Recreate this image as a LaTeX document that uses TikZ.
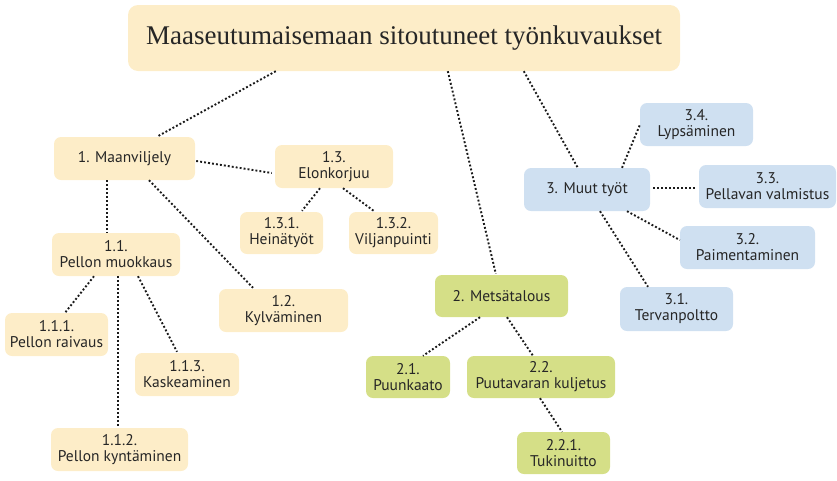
\documentclass[tikz,border=0pt]{standalone}
\usepackage{fontspec}
\setmainfont{PT Sans}
\newfontfamily\titlefont{Liberation Serif}
\usetikzlibrary{calc}
\definecolor{ylw}{HTML}{FDEDC8}
\definecolor{grn}{HTML}{D5DF87}
\definecolor{blu}{HTML}{CFE0F1}
\definecolor{txt}{HTML}{262626}
\definecolor{dotc}{HTML}{1A1A1A}
\tikzset{
  box/.style={rounded corners=7pt, inner sep=0pt, align=center, text=txt,
    font=\fontsize{15.5}{16}\selectfont, minimum height=43pt},
  yb/.style={box, fill=ylw},
  gb/.style={box, fill=grn},
  bb/.style={box, fill=blu},
  link/.style={draw=dotc, line width=1.9pt, dash pattern=on 1.9pt off 2.1pt}
}
\begin{document}
\begin{tikzpicture}[x=1pt,y=-1pt]
\useasboundingbox (0,0) rectangle (837,480);
\node[yb, rounded corners=10pt, minimum width=552pt, minimum height=66pt,
  font=\titlefont\fontsize{27}{30}\selectfont] (title) at (404,38) {Maaseutumaisemaan sitoutuneet työnkuvaukset};
% yellow
\node[yb, minimum width=141pt] (m1) at (124.5,158.5) {1. Maanviljely};
\node[yb, minimum width=118pt] (m13) at (334,166.5) {1.3.\\Elonkorjuu};
\node[yb, minimum width=83pt, minimum height=42pt] (m131) at (281.5,233) {1.3.1.\\Heinätyöt};
\node[yb, minimum width=89pt, minimum height=42pt] (m132) at (393.5,233) {1.3.2.\\Viljanpuinti};
\node[yb, minimum width=128pt] (m11) at (116,254.5) {1.1.\\Pellon muokkaus};
\node[yb, minimum width=129pt] (m12) at (283.5,310.5) {1.2.\\Kylväminen};
\node[yb, minimum width=103pt] (m111) at (56.5,334.5) {1.1.1.\\Pellon raivaus};
\node[yb, minimum width=104pt] (m113) at (187,374.5) {1.1.3.\\Kaskeaminen};
\node[yb, minimum width=137pt] (m112) at (119.5,449.5) {1.1.2.\\Pellon kyntäminen};
% green
\node[gb, minimum width=133pt, minimum height=42pt] (m2) at (501.5,296) {2. Metsätalous};
\node[gb, minimum width=84pt, minimum height=42pt] (m21) at (408,377) {2.1.\\Puunkaato};
\node[gb, minimum width=148pt, minimum height=42pt] (m22) at (541,377) {2.2.\\Puutavaran kuljetus};
\node[gb, minimum width=93pt, minimum height=42pt] (m221) at (563.5,453) {2.2.1.\\Tukinuitto};
% blue
\node[bb, minimum width=126pt] (m3) at (587,189.5) {3. Muut työt};
\node[bb, minimum width=113pt] (m34) at (696.5,124.5) {3.4.\\Lypsäminen};
\node[bb, minimum width=137pt] (m33) at (767.5,186.5) {3.3.\\Pellavan valmistus};
\node[bb, minimum width=135pt] (m32) at (747.5,247.5) {3.2.\\Paimentaminen};
\node[bb, minimum width=113pt, minimum height=44pt] (m31) at (676.5,309) {3.1.\\Tervanpoltto};
% connectors
\draw[link] ($(title.south west)+(148,0)$) -- ($(m1.north west)+(103,0)$);
\draw[link] ($(title.south west)+(320,0)$) -- ($(m2.north west)+(61,-1)$);
\draw[link] ($(title.south west)+(396,0)$) -- ($(m3.north west)+(54,0)$);
\draw[link] ($(m1.east)+(1,2.5)$) -- ($(m13.west)+(-3,6.5)$);
\draw[link] ($(m1.south)+(-17.5,0)$) -- ($(m11.north)+(-9,0)$);
\draw[link] ($(m1.south)+(24.5,0)$) -- ($(m12.north)+(-30.5,-1)$);
\draw[link] ($(m13.south)+(-14,0)$) -- ($(m131.north)+(20.5,-1)$);
\draw[link] ($(m13.south)+(9,0)$) -- ($(m132.north)+(-18.5,0)$);
\draw[link] ($(m11.south)+(-22,0)$) -- ($(m111.north)+(8.5,0)$);
\draw[link] ($(m11.south)+(2,0)$) -- ($(m112.north)+(-1.5,0)$);
\draw[link] ($(m11.south)+(22,0)$) -- ($(m113.north)+(-10,-1)$);
\draw[link] ($(m2.south)+(-21.5,0)$) -- ($(m21.north)+(15,0)$);
\draw[link] ($(m2.south)+(5.5,0)$) -- ($(m22.north)+(-8,0)$);
\draw[link] ($(m22.south)+(-1,0)$) -- ($(m221.north)+(-1.5,0)$);
\draw[link] ($(m3.north)+(35,0)$) -- ($(m34.west)+(0,0.5)$);
\draw[link] ($(m3.east)+(3,-1.5)$) -- ($(m33.west)+(-2,1.5)$);
\draw[link] ($(m3.south)+(40,0)$) -- ($(m32.west)+(0,-7.5)$);
\draw[link] ($(m3.south)+(13,0)$) -- ($(m31.north)+(-28.5,0)$);
\end{tikzpicture}
\end{document}
